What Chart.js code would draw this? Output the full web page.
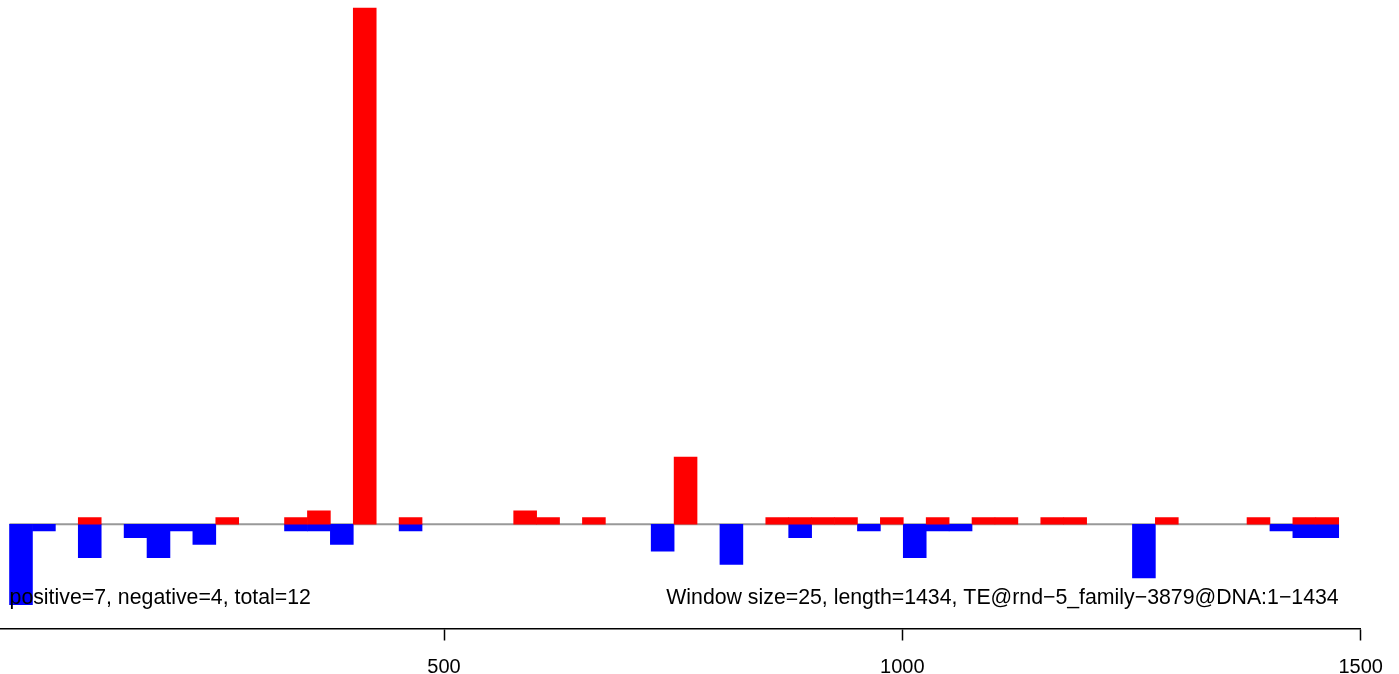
<!DOCTYPE html>
<html>
<head>
<meta charset="utf-8">
<title>TE window plot</title>
<script src="https://cdn.jsdelivr.net/npm/chart.js@4.4.0/dist/chart.umd.min.js"></script>
<style>
  html, body { margin: 0; padding: 0; background: #fff; }
  canvas { display: block; }
</style>
</head>
<body>
<canvas id="grafik" width="1399" height="674"></canvas>
<script>
// window start positions (window size 25)
const WINDOW_SIZE = 25;
const windowStarts = [26, 51, 76, 101, 126, 151, 176, 201, 226, 251, 276, 301, 326, 351, 376, 401, 426, 451, 476, 501,
  526, 551, 576, 601, 626, 651, 676, 701, 726, 751, 776, 801, 826, 851, 876, 901, 926, 951, 976, 1001,
  1026, 1051, 1076, 1101, 1126, 1151, 1176, 1201, 1226, 1251, 1276, 1301, 1326, 1351, 1376, 1401, 1426, 1451];

// positive (red) and negative (blue) scores per window
const positiveValues = [0, 0, 0, 1, 0, 0, 0, 0, 0, 1, 0, 0, 1, 2, 0, 77, 0, 1, 0, 0,
  0, 0, 2, 1, 0, 1, 0, 0, 0, 10, 0, 0, 0, 1, 1, 1, 1, 0, 1, 0,
  1, 0, 1, 1, 0, 1, 1, 0, 0, 0, 1, 0, 0, 0, 1, 0, 1, 1];
const negativeValues = [-12, -1, 0, -5, 0, -2, -5, -1, -3, 0, 0, 0, -1, -1, -3, 0, 0, -1, 0, 0,
  0, 0, 0, 0, 0, 0, 0, 0, -4, 0, 0, -6, 0, 0, -2, 0, 0, -1, 0, -5,
  -1, -1, 0, 0, 0, 0, 0, 0, 0, -8, 0, 0, 0, 0, 0, -1, -2, -2];

const xTicks = [500, 1000, 1500];
const X_MIN = 15.6, X_MAX = 1500;
const Y_MIN = -15.55, Y_MAX = 77.15;
const TEXT_Y = -11.9;
const leftText = "positive=7, negative=4, total=12";
const rightText = "Window size=25, length=1434, TE@rnd\u22125_family\u22123879@DNA:1\u22121434";

const FONT = "'Liberation Sans', Arial, sans-serif";

const middle = windowStarts.map(s => s + WINDOW_SIZE / 2);
// empty windows get no bar at all
const points = vals => vals.map((v, i) => ({ x: middle[i], y: v === 0 ? null : v }));

// zero line under the bars, labels on top
const notlar = {
  id: "notlar",
  beforeDatasetsDraw(chart) {
    const { ctx, scales: { x, y } } = chart;
    const y0 = y.getPixelForValue(0);
    ctx.save();
    ctx.strokeStyle = "#999999";
    ctx.lineWidth = 2;
    ctx.beginPath();
    ctx.moveTo(x.getPixelForValue(windowStarts[0]), y0);
    ctx.lineTo(x.getPixelForValue(windowStarts[windowStarts.length - 1] + WINDOW_SIZE), y0);
    ctx.stroke();
    ctx.restore();
  },
  afterDatasetsDraw(chart) {
    const { ctx, scales: { x, y } } = chart;
    const ty = y.getPixelForValue(TEXT_Y);
    ctx.save();
    ctx.fillStyle = "#000";
    ctx.font = "21.3px " + FONT;
    ctx.textBaseline = "alphabetic";
    ctx.textAlign = "left";
    ctx.fillText(leftText, x.getPixelForValue(windowStarts[0]), ty);
    ctx.textAlign = "right";
    ctx.fillText(rightText, x.getPixelForValue(windowStarts[windowStarts.length - 1] + WINDOW_SIZE), ty);
    ctx.restore();
  }
};

new Chart(document.getElementById("grafik"), {
  type: "bar",
  data: {
    datasets: [
      { label: "positive", data: points(positiveValues), backgroundColor: "#ff0000" },
      { label: "negative", data: points(negativeValues), backgroundColor: "#0000ff" },
    ],
  },
  options: {
    responsive: false,
    devicePixelRatio: 1,
    animation: false,
    layout: { padding: { top: 7, left: 0, right: 38.3, bottom: 0 } },
    datasets: { bar: { grouped: false, barPercentage: 1, categoryPercentage: 1, borderWidth: 0 } },
    plugins: { legend: { display: false }, tooltip: { enabled: false } },
    scales: {
      x: {
        type: "linear",
        min: X_MIN,
        max: X_MAX,
        offset: false,
        afterBuildTicks: s => { s.ticks = xTicks.map(v => ({ value: v })); },
        afterFit: s => { s.height = 45.5; },
        border: { display: true, color: "#000", width: 1.5 },
        grid: { offset: false, drawOnChartArea: false, drawTicks: true, tickLength: 12, tickColor: "#000", tickWidth: 1.5 },
        ticks: {
          color: "#000",
          font: { family: FONT, size: 20 },
          padding: 15,
          maxRotation: 0,
          autoSkip: false,
          callback: v => String(v),
        },
      },
      y: { display: false, min: Y_MIN, max: Y_MAX },
    },
  },
  plugins: [notlar],
});
</script>
</body>
</html>
